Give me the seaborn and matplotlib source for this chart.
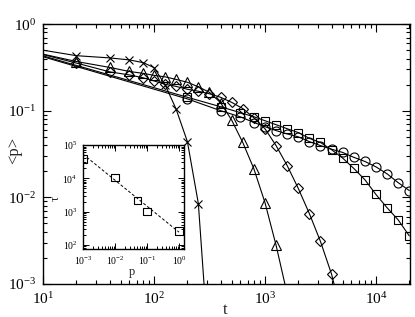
import matplotlib
matplotlib.use('Agg')
import matplotlib.pyplot as plt
import seaborn as sns
import numpy as np
import pandas as pd
from matplotlib.ticker import LogLocator, NullFormatter

# ---- data ----
t_cross = [10, 20, 40, 60, 80, 100, 126, 158, 200, 251, 316]
p_cross = [0.50, 0.432, 0.407, 0.386, 0.359, 0.315, 0.199, 0.105, 0.044, 0.0085, 0.00013]

t_tri = [10, 20, 40, 60, 80, 100, 126, 158, 200, 251, 316, 398, 501, 631, 794, 1000, 1259, 1585]
p_tri = [0.45, 0.37, 0.316, 0.284, 0.27, 0.256, 0.246, 0.23, 0.213, 0.189, 0.163, 0.124,
         0.078, 0.043, 0.0214, 0.0087, 0.0028, 0.00077]

t_dia = [10, 20, 40, 60, 80, 100, 126, 158, 200, 251, 316, 398, 501, 631, 794, 1000,
         1259, 1585, 1995, 2512, 3162, 3981, 5012]
p_dia = [0.445, 0.355, 0.281, 0.259, 0.24, 0.221, 0.202, 0.191, 0.177, 0.168, 0.157, 0.143,
         0.125, 0.106, 0.083, 0.062, 0.0396, 0.0233, 0.0127, 0.0065, 0.0031, 0.0013, 0.0004]

t_long = [10, 200, 400, 600, 800, 1000, 1259, 1585, 1995, 2512, 3162, 3981, 5012, 6310,
          7943, 10000, 12589, 15849, 19953]
p_cir = [0.42, 0.137, 0.1, 0.085, 0.073, 0.0655, 0.059, 0.054, 0.05, 0.044, 0.0396, 0.036,
         0.033, 0.029, 0.026, 0.0225, 0.0187, 0.0148, 0.012]
p_sq = [0.43, 0.143, 0.111, 0.095, 0.085, 0.0767, 0.069, 0.062, 0.056, 0.048, 0.043, 0.0355,
        0.0284, 0.0216, 0.016, 0.0108, 0.0076, 0.0055, 0.0036]

inset_p = [0.001, 0.01, 0.05, 0.1, 1.0]
inset_tau = [3.8e4, 1.07e4, 2.2e3, 1.0e3, 2.6e2]
fit_p = [0.001, 1.0]
fit_tau = [5.3e4, 2.4e2]

# ---- style ----
sns.set_style('ticks')
plt.rcParams['font.family'] = ['Liberation Serif', 'DejaVu Serif']
plt.rcParams['mathtext.fontset'] = 'custom'
plt.rcParams['mathtext.rm'] = 'Liberation Serif'
plt.rcParams['mathtext.it'] = 'Liberation Serif:italic'
plt.rcParams['mathtext.default'] = 'regular'

fig = plt.figure(figsize=(4.15, 3.17), dpi=100)
fig.patch.set_facecolor('white')
ax = fig.add_axes([0.1036, 0.104, 0.884, 0.820])
ax.set_facecolor('white')
ax.set_xscale('log')
ax.set_yscale('log')

common = dict(color='black', lw=0.8, markerfacecolor='none', markeredgecolor='black',
              markeredgewidth=0.8, estimator=None, sort=False, ax=ax, legend=False)

series = [
    (t_cross, p_cross, 'x', 5.5),
    (t_tri, p_tri, '^', 6.5),
    (t_dia, p_dia, 'D', 5.0),
    (t_long, p_cir, 'o', 6.5),
    (t_long, p_sq, 's', 6.0),
]
for tt, pp, mk, ms in series:
    df = pd.DataFrame({'t': tt, 'p': pp})
    sns.lineplot(data=df, x='t', y='p', marker=mk, markersize=ms,
                 markevery=slice(1, None), **common)

ax.set_xlim(10, 2.02e4)
ax.set_ylim(1e-3, 1)
ax.xaxis.set_major_locator(LogLocator(base=10, numticks=10))
ax.xaxis.set_minor_locator(LogLocator(base=10, subs=np.arange(2, 10), numticks=20))
ax.yaxis.set_major_locator(LogLocator(base=10, numticks=10))
ax.yaxis.set_minor_locator(LogLocator(base=10, subs=np.arange(2, 10), numticks=20))
ax.xaxis.set_minor_formatter(NullFormatter())
ax.yaxis.set_minor_formatter(NullFormatter())
ax.tick_params(which='both', direction='in', top=True, right=True, width=0.8,
               colors='black', labelsize=11)
ax.tick_params(which='major', length=6, pad=5)
ax.tick_params(which='minor', length=3)
for s in ax.spines.values():
    s.set_linewidth(1.0)
    s.set_color('black')
ax.set_xlabel('t', fontsize=12)
ax.set_ylabel('<p>', fontsize=12)
ax.xaxis.set_label_coords(0.496, -0.068)
ax.yaxis.set_label_coords(-0.058, 0.515)

# ---- inset ----
axi = fig.add_axes([0.200, 0.2145, 0.2434, 0.328])
axi.set_facecolor('white')
axi.set_xscale('log')
axi.set_yscale('log')
dfi = pd.DataFrame({'p': inset_p, 'tau': inset_tau})
sns.scatterplot(data=dfi, x='p', y='tau', ax=axi, marker='s', s=26,
                facecolor='none', edgecolor='black', linewidth=0.8, legend=False, zorder=3)
dff = pd.DataFrame({'p': fit_p, 'tau': fit_tau})
sns.lineplot(data=dff, x='p', y='tau', ax=axi, color='black', lw=0.7,
             linestyle=(0, (3, 2)), estimator=None, sort=False, legend=False)
axi.set_xlim(1e-3, 1.43)
axi.set_ylim(75, 1e5)
axi.xaxis.set_major_locator(LogLocator(base=10, numticks=10))
axi.xaxis.set_minor_locator(LogLocator(base=10, subs=np.arange(2, 10), numticks=20))
axi.yaxis.set_major_locator(LogLocator(base=10, numticks=10))
axi.yaxis.set_minor_locator(LogLocator(base=10, subs=np.arange(2, 10), numticks=20))
axi.xaxis.set_minor_formatter(NullFormatter())
axi.yaxis.set_minor_formatter(NullFormatter())
axi.tick_params(which='both', direction='in', top=True, right=True, width=0.7,
                colors='black', labelsize=7)
axi.tick_params(which='major', length=4, pad=4)
axi.tick_params(which='minor', length=2)
for s in axi.spines.values():
    s.set_linewidth(1.0)
    s.set_color('black')
axi.set_xlabel('p', fontsize=9)
axi.set_ylabel('τ', fontsize=9)
axi.xaxis.set_label_coords(0.485, -0.165)
axi.yaxis.set_label_coords(-0.21, 0.49)

fig.savefig('out.png', dpi=100, facecolor='white')
